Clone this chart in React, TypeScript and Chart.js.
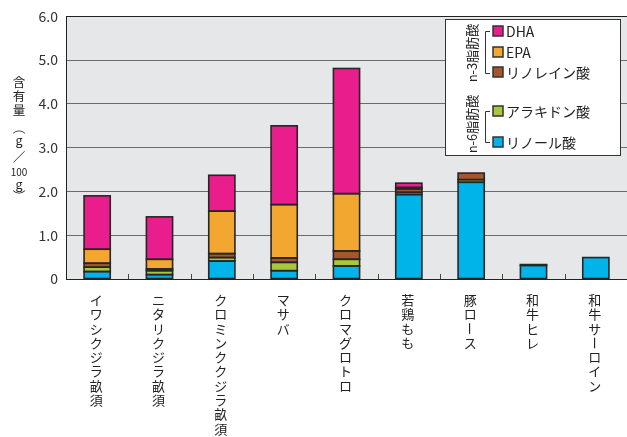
import React, { useEffect, useRef } from 'react';
import { Chart, registerables } from 'chart.js';

Chart.register(...registerables);

// 食品ごとの脂肪酸含有量 (g/100g)
const categories = [
  'イワシクジラ畝須',
  'ニタリクジラ畝須',
  'クロミンククジラ畝須',
  'マサバ',
  'クロマグロトロ',
  '若鶏もも',
  '豚ロース',
  '和牛ヒレ',
  '和牛サーロイン',
];
const linoleic = [0.17, 0.1, 0.41, 0.19, 0.3, 1.93, 2.21, 0.31, 0.49]; // リノール酸
const arachidonic = [0.1, 0.09, 0.08, 0.19, 0.15, 0.05, 0.06, 0, 0]; // アラキドン酸
const linolenic = [0.09, 0.04, 0.09, 0.1, 0.19, 0.08, 0.15, 0.02, 0]; // リノレイン酸
const epa = [0.32, 0.22, 0.97, 1.22, 1.31, 0.03, 0, 0, 0];
const dha = [1.22, 0.97, 0.82, 1.8, 2.86, 0.1, 0, 0, 0];
const yTicks = [0, 1, 2, 3, 4, 5, 6];

const COLORS = {
  dha: '#e91e8c',
  epa: '#f2a730',
  linolenic: '#a6552c',
  arachidonic: '#a8c83c',
  linoleic: '#00b4ea',
};

const FONT = "'Noto Sans CJK JP', 'Noto Sans', sans-serif";

const overlay = {
  id: 'overlay',
  beforeDraw(chart: any) {
    const { ctx, chartArea } = chart;
    ctx.save();
    ctx.fillStyle = '#e6e7e9';
    ctx.fillRect(chartArea.left, chartArea.top, chartArea.right - chartArea.left, chartArea.bottom - chartArea.top);
    ctx.restore();
  },
  afterDatasetsDraw(chart: any) {
    // outline every segment, stroke centred on its edges
    const ctx = chart.ctx;
    ctx.save();
    ctx.strokeStyle = '#262626';
    ctx.lineWidth = 1.6;
    chart.data.datasets.forEach((ds: any, di: number) => {
      const meta = chart.getDatasetMeta(di);
      meta.data.forEach((bar: any, i: number) => {
        if (ds.data[i] == null) return;
        const { x, y, base, width } = bar.getProps(['x', 'y', 'base', 'width'], true);
        ctx.strokeRect(x - width / 2, y, width, base - y);
      });
    });
    ctx.restore();
  },
  afterDraw(chart: any) {
    const { ctx, chartArea } = chart;
    const x = chart.scales.x;
    ctx.save();

    // small ticks between categories
    ctx.strokeStyle = '#444';
    ctx.lineWidth = 1;
    for (let i = 1; i < categories.length; i++) {
      const px = Math.round((x.getPixelForValue(i - 1) + x.getPixelForValue(i)) / 2) + 0.5;
      ctx.beginPath();
      ctx.moveTo(px, chartArea.bottom);
      ctx.lineTo(px, chartArea.bottom - 5);
      ctx.stroke();
    }

    // vertical category labels
    ctx.fillStyle = '#222';
    ctx.font = `13px ${FONT}`;
    ctx.textAlign = 'center';
    ctx.textBaseline = 'middle';
    categories.forEach((label, i) => {
      const cx = x.getPixelForValue(i) - 1;
      [...label].forEach((ch, j) => {
        const cy = chartArea.bottom + 21 + j * 14.3;
        if (ch === 'ー') {
          ctx.save();
          ctx.translate(cx, cy);
          ctx.rotate(Math.PI / 2);
          ctx.fillText(ch, 0, 0);
          ctx.restore();
        } else {
          ctx.fillText(ch, cx, cy);
        }
      });
    });

    // y axis title (vertical)
    const title: [string, number, boolean][] = [
      ['含', 82, false],
      ['有', 96, false],
      ['量', 110, false],
      ['（', 128, true],
      ['g', 140, false],
      ['／', 157, false],
      ['100', 172, false],
      ['g', 184, false],
      ['）', 196, true],
    ];
    title.forEach(([t, cy, rot]) => {
      ctx.save();
      ctx.translate(19, cy);
      if (rot) ctx.rotate(Math.PI / 2);
      ctx.font = t === '100' ? `10px ${FONT}` : `12.5px ${FONT}`;
      ctx.fillText(t, 0, 0);
      ctx.restore();
    });

    // legend
    ctx.fillStyle = '#fff';
    ctx.fillRect(445.5, 19.5, 175, 136);
    ctx.strokeStyle = '#333';
    ctx.lineWidth = 1;
    ctx.strokeRect(445.5, 19.5, 175, 136);

    ctx.fillStyle = '#222';
    ctx.font = `13px ${FONT}`;
    [['n-3脂肪酸', 53], ['n-6脂肪酸', 124]].forEach(([t, cy]) => {
      ctx.save();
      ctx.translate(472, cy as number);
      ctx.rotate(-Math.PI / 2);
      ctx.fillText(t as string, 0, 0);
      ctx.restore();
    });

    ctx.strokeStyle = '#333';
    [[31, 73], [111, 142]].forEach(([a, b]) => {
      ctx.beginPath();
      ctx.moveTo(490, a + 0.5);
      ctx.lineTo(485.5, a + 0.5);
      ctx.lineTo(485.5, b + 0.5);
      ctx.lineTo(490, b + 0.5);
      ctx.stroke();
    });

    const items: [string, string, number][] = [
      ['DHA', COLORS.dha, 31],
      ['EPA', COLORS.epa, 52],
      ['リノレイン酸', COLORS.linolenic, 72],
      ['アラキドン酸', COLORS.arachidonic, 111],
      ['リノール酸', COLORS.linoleic, 142],
    ];
    ctx.textAlign = 'left';
    ctx.font = `14px ${FONT}`;
    items.forEach(([t, c, cy]) => {
      ctx.fillStyle = c;
      ctx.fillRect(493, cy - 5, 10, 10);
      ctx.lineWidth = 1.5;
      ctx.strokeStyle = '#333';
      ctx.strokeRect(493, cy - 5, 10, 10);
      ctx.fillStyle = '#222';
      ctx.fillText(t, 506, cy + 1);
    });

    ctx.restore();
  },
};

const App: React.FC = () => {
  const canvasRef = useRef<HTMLCanvasElement | null>(null);
  const chartRef = useRef<Chart | null>(null);

  useEffect(() => {
    document.body.style.margin = '0';
    if (!canvasRef.current) return;
    const ctx = canvasRef.current.getContext('2d');
    if (!ctx) return;

    if (chartRef.current) {
      chartRef.current.destroy();
      chartRef.current = null;
    }

    const series = [
      { label: 'リノール酸', data: linoleic, color: COLORS.linoleic },
      { label: 'アラキドン酸', data: arachidonic, color: COLORS.arachidonic },
      { label: 'リノレイン酸', data: linolenic, color: COLORS.linolenic },
      { label: 'EPA', data: epa, color: COLORS.epa },
      { label: 'DHA', data: dha, color: COLORS.dha },
    ];

    chartRef.current = new Chart(ctx, {
      type: 'bar',
      data: {
        labels: categories,
        datasets: series.map((s) => ({
          label: s.label,
          data: s.data.map((v) => (v === 0 ? null : v)),
          backgroundColor: s.color,
          borderWidth: 0,
          barPercentage: 0.42,
          categoryPercentage: 1,
        })),
      },
      options: {
        responsive: false,
        animation: false,
        layout: { padding: { top: 15, left: 0, right: 0, bottom: 0 } },
        plugins: {
          legend: { display: false },
          tooltip: { enabled: false },
        },
        scales: {
          x: {
            stacked: true,
            ticks: { display: false },
            grid: { display: false },
            border: { display: true, color: '#222', width: 1 },
            afterFit: (scale: any) => {
              scale.height = 158;
            },
          },
          y: {
            stacked: true,
            min: 0,
            max: 6,
            afterBuildTicks: (scale: any) => {
              scale.ticks = yTicks.map((v) => ({ value: v }));
            },
            ticks: {
              padding: 8,
              color: '#333',
              font: { family: FONT, size: 14 },
              callback: (v: any) => (v === 0 ? '0' : Number(v).toFixed(1)),
            },
            grid: {
              drawTicks: false,
              color: (c: any) => (c.tick && c.tick.value === 6 ? '#222' : '#6a6a6a'),
              lineWidth: 1,
            },
            border: { display: true, color: '#222', width: 1 },
            afterFit: (scale: any) => {
              scale.width = 66;
            },
          },
        },
      },
      plugins: [overlay],
    });

    return () => {
      if (chartRef.current) {
        chartRef.current.destroy();
        chartRef.current = null;
      }
    };
  }, []);

  return (
    <div style={{ width: 627, height: 437 }}>
      <canvas ref={canvasRef} width={627} height={437}></canvas>
    </div>
  );
};

export default App;
